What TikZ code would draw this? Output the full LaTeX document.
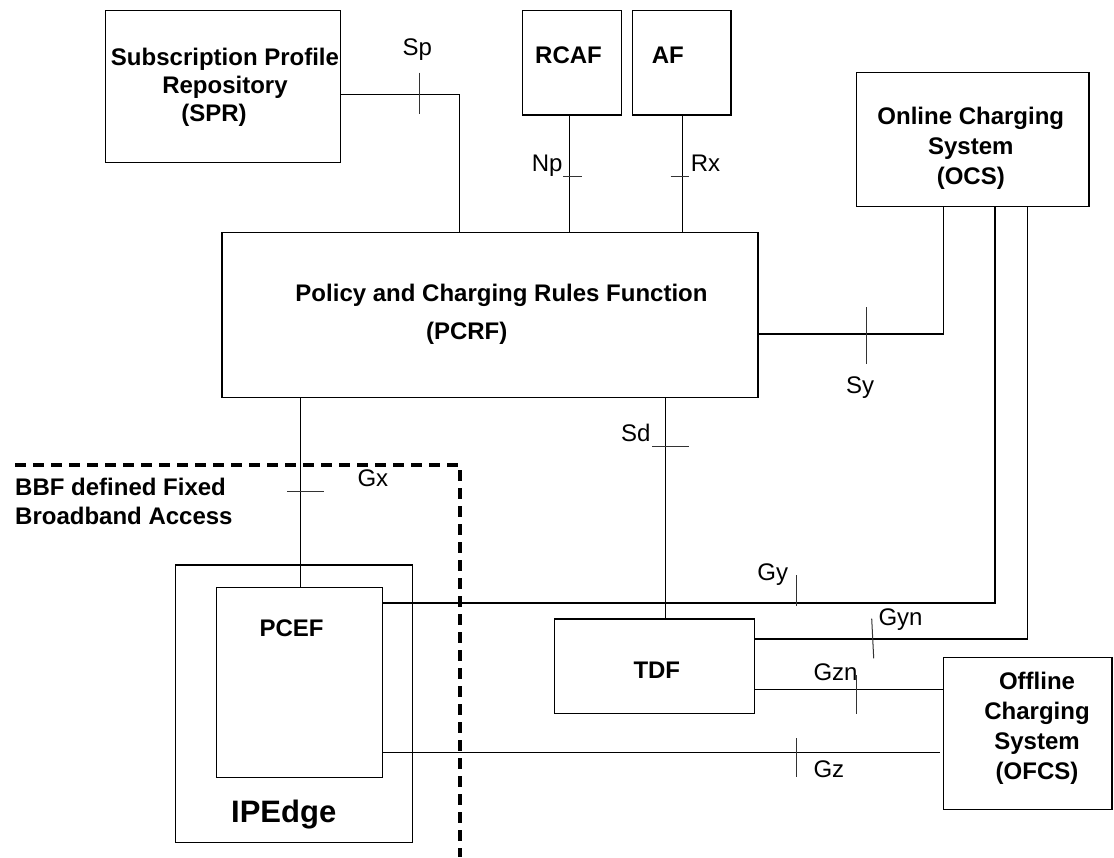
\documentclass[tikz,border=0pt]{standalone}
\usepackage{fontspec}
\setmainfont{Liberation Sans}
\usetikzlibrary{fit}
\begin{document}
\begin{tikzpicture}[x=1pt,y=-1pt,
  box/.style={draw, line width=1.4pt, inner sep=0pt, rectangle},
  conn/.style={line width=1.3pt},
  tick/.style={line width=1pt, black!80},
  lbl/.style={inner sep=0pt, font=\fontsize{24}{28}\selectfont},
  btxt/.style={inner sep=0pt, font=\fontsize{24}{28}\selectfont\bfseries},
  bbf/.style={line width=3.2pt, dash pattern=on 11pt off 7pt}]
\useasboundingbox (0,0) rectangle (1114,857);

% boxes
\node[box, fit={(105.7,10.7) (340.7,162.3)}] (spr) {};
\node[box, fit={(522.7,10.7) (621.7,115)}] (rcaf) {};
\node[box, fit={(632.3,10.7) (731,115)}] (af) {};
\node[box, fit={(856.3,72.7) (1089,206.7)}] (ocs) {};
\node[box, fit={(222,232.3) (758,397.7)}] (pcrf) {};
\node[box, fit={(175.7,565) (412.3,842.3)}] (ipedge) {};
\node[box, fit={(216.7,587.7) (382.7,777.7)}] (pcef) {};
\node[box, fit={(554.3,619) (754.7,713.7)}] (tdf) {};
\node[box, fit={(943.7,657.7) (1112,809.7)}] (ofcs) {};

% box texts
\node[btxt, anchor=base, font=\fontsize{24}{28.3}\selectfont\bfseries] (sprt) at (225,65)
  {\begin{tabular}[t]{@{}c@{}}Subscription Profile\\Repository\\(SPR)\hspace*{22pt}\end{tabular}};
\node[btxt, anchor=base west] (rcaft) at (535,63.3) {RCAF};
\node[btxt, anchor=base west] (aft) at (651.7,63.3) {AF};
\node[btxt, anchor=base, font=\fontsize{24}{30}\selectfont\bfseries] (ocst) at (970.8,124)
  {\begin{tabular}[t]{@{}c@{}}Online Charging\\System\\(OCS)\end{tabular}};
\node[btxt, anchor=base, font=\fontsize{24}{37.6}\selectfont\bfseries] (pcrft) at (501.5,301.7)
  {\begin{tabular}[t]{@{}c@{}}Policy and Charging Rules Function\\(PCRF)\hspace*{69.6pt}\end{tabular}};
\node[btxt, anchor=base west, font=\fontsize{24}{29}\selectfont\bfseries] (bbft) at (15,495)
  {\begin{tabular}[t]{@{}l@{}}BBF defined Fixed\\Broadband Access\end{tabular}};
\node[btxt, anchor=base west] (pceft) at (259.3,636) {PCEF};
\node[btxt, anchor=base west, font=\fontsize{31}{36}\selectfont\bfseries] (ipedget) at (231,822.7) {IPEdge};
\node[btxt, anchor=base west] (tdft) at (633.3,678.3) {TDF};
\node[btxt, anchor=base, font=\fontsize{24}{30.2}\selectfont\bfseries] (ofcst) at (1037,689.3)
  {\begin{tabular}[t]{@{}c@{}}Offline\\Charging\\System\\(OFCS)\end{tabular}};

% dashed domain border
\coordinate (bbfa) at (15,465);
\coordinate (bbfb) at (460,465);
\coordinate (bbfc) at (460,857);
\draw[bbf] (bbfa) -- (bbfb) -- (bbfc);

% connectors
\draw[conn] (spr.east |- 0,94.3) -| (pcrf.north -| 459.5,0);
\draw[conn] (rcaf.south -| 569.3,0) -- (pcrf.north -| 569.3,0);
\draw[conn] (af.south -| 682.3,0) -- (pcrf.north -| 682.3,0);
\draw[conn] (pcrf.east |- 0,334) -| (ocs.south -| 943.3,0);
\draw[conn] (pcrf.south -| 300.5,0) -- (pcef.north -| 300.5,0);
\draw[conn] (pcrf.south -| 665.7,0) -- (tdf.north -| 665.7,0);
\draw[conn] (pcef.east |- 0,603) -| (ocs.south -| 995,0);
\draw[conn] (tdf.east |- 0,639) -| (ocs.south -| 1027.7,0);
\draw[conn] (tdf.east |- 0,689.7) -- (ofcs.west |- 0,689.7);
\draw[conn, shorten >=3pt] (pcef.east |- 0,752.5) -- (ofcs.west |- 0,752.5);

% interface ticks
\draw[tick] (419,72.7) -- (419,114);
\draw[tick] (563,176.7) -- (582,176.7);
\draw[tick] (670.7,176.7) -- (689,176.7);
\draw[tick] (866.3,307.3) -- (866.3,364);
\draw[tick] (287.3,491) -- (324.3,491);
\draw[tick] (652.3,446) -- (689.3,446);
\draw[tick] (796,575) -- (796,605.7);
\draw[tick] (871.7,618.7) -- (873.7,658.3);
\draw[tick] (856.3,675) -- (856.3,713.7);
\draw[tick] (796,738.3) -- (796,777.3);

% interface labels
\node[lbl, anchor=base] (sp) at (417.3,55) {Sp};
\node[lbl, anchor=base east] (np) at (562.7,171.7) {Np};
\node[lbl, anchor=base west] (rx) at (690.7,171.7) {Rx};
\node[lbl, anchor=base] (sy) at (860,393) {Sy};
\node[lbl, anchor=base east] (sd) at (650.7,441.7) {Sd};
\node[lbl, anchor=base west] (gx) at (357.3,486.7) {Gx};
\node[lbl, anchor=base east] (gy) at (788.3,580.7) {Gy};
\node[lbl, anchor=base west] (gyn) at (878.3,625) {Gyn};
\node[lbl, anchor=base west] (gzn) at (813.3,680) {Gzn};
\node[lbl, anchor=base west] (gz) at (813.3,777.3) {Gz};
\end{tikzpicture}
\end{document}
